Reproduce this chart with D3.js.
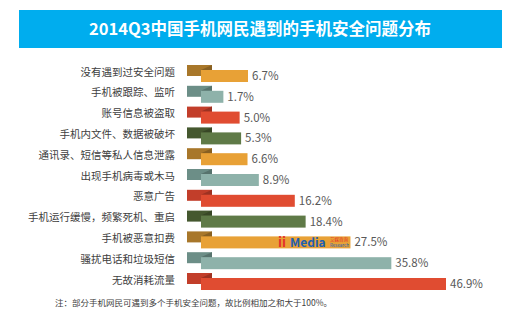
<!DOCTYPE html>
<html><head><meta charset="utf-8">
<script src="https://cdn.jsdelivr.net/npm/d3@7"></script>
<style>
html,body{margin:0;padding:0;background:#fff;}
svg{display:block;font-family:"Noto Sans CJK SC","Noto Sans",sans-serif;}
</style></head>
<body><svg id="c" width="518" height="334"></svg>
<script>
const title = "2014Q3中国手机网民遇到的手机安全问题分布";
const categories = ["没有遇到过安全问题","手机被跟踪、监听","账号信息被盗取","手机内文件、数据被破坏","通讯录、短信等私人信息泄露","出现手机病毒或木马","恶意广告","手机运行缓慢，频繁死机、重启","手机被恶意扣费","骚扰电话和垃圾短信","无故消耗流量"];
const values = [6.7,1.7,5.0,5.3,6.6,8.9,16.2,18.4,27.5,35.8,46.9];
const note = "注：部分手机网民可遇到多个手机安全问题，故比例相加之和大于100%。";
const frontColors = ["#E8A136","#8EB2AA","#E04C31","#5F7A47"];
const backColors  = ["#A8772A","#6C8E87","#C23E2A","#45582F"];

const svg = d3.select("#c");
svg.append("rect").attr("x",19).attr("y",10).attr("width",483).attr("height",38).attr("fill","#00ADEE");
svg.append("text").attr("x",260).attr("y",35).attr("text-anchor","middle").attr("fill","#fff")
  .attr("font-size",16.5).attr("font-weight","bold").text(title);

const x = d3.scaleLinear().domain([0,46.9]).range([215,446]);
const y = d3.scaleBand().domain(categories).range([63,63+20.8*11]);

const g = svg.append("g");
categories.forEach((c,i)=>{
  const y0 = y(c), v = values[i], k = i%4;
  g.append("rect").attr("x",187).attr("y",y0+2).attr("width",25).attr("height",11).attr("fill",backColors[k]);
  g.append("path").attr("d",`M201,${y0+7}L212,${y0+2}L212,${y0+7}Z`).attr("fill",d3.color(backColors[k]).darker(0.6));
  g.append("rect").attr("x",201).attr("y",y0+7).attr("width",x(v)-201).attr("height",12).attr("fill",frontColors[k]);
  g.append("text").attr("x",x(v)+4).attr("y",y0+13).attr("dy","0.35em").attr("font-size",11.5).attr("fill","#595959").text(v.toFixed(1)+"%");
  g.append("text").attr("x",175).attr("y",y0+9).attr("dy","0.35em").attr("text-anchor","end").attr("font-size",10.5).attr("fill","#404040").text(c);
});

// watermark logo
const wy = y(categories[8])+18;
svg.append("text").attr("x",278).attr("y",wy).attr("font-size",13).attr("font-weight","bold").attr("fill","#E5302A").text("ii");
svg.append("text").attr("x",290).attr("y",wy).attr("font-size",12).attr("font-weight","bold").attr("fill","#1F5FB0").text("Media");
svg.append("text").attr("x",330).attr("y",wy-6).attr("font-size",4.5).attr("fill","#E5302A").text("艾媒咨询");
svg.append("text").attr("x",330).attr("y",wy).attr("font-size",4.5).attr("fill","#1F5FB0").text("Research");

svg.append("text").attr("x",55).attr("y",306).attr("font-size",8.5).attr("fill","#404040").text(note);
</script></body></html>
